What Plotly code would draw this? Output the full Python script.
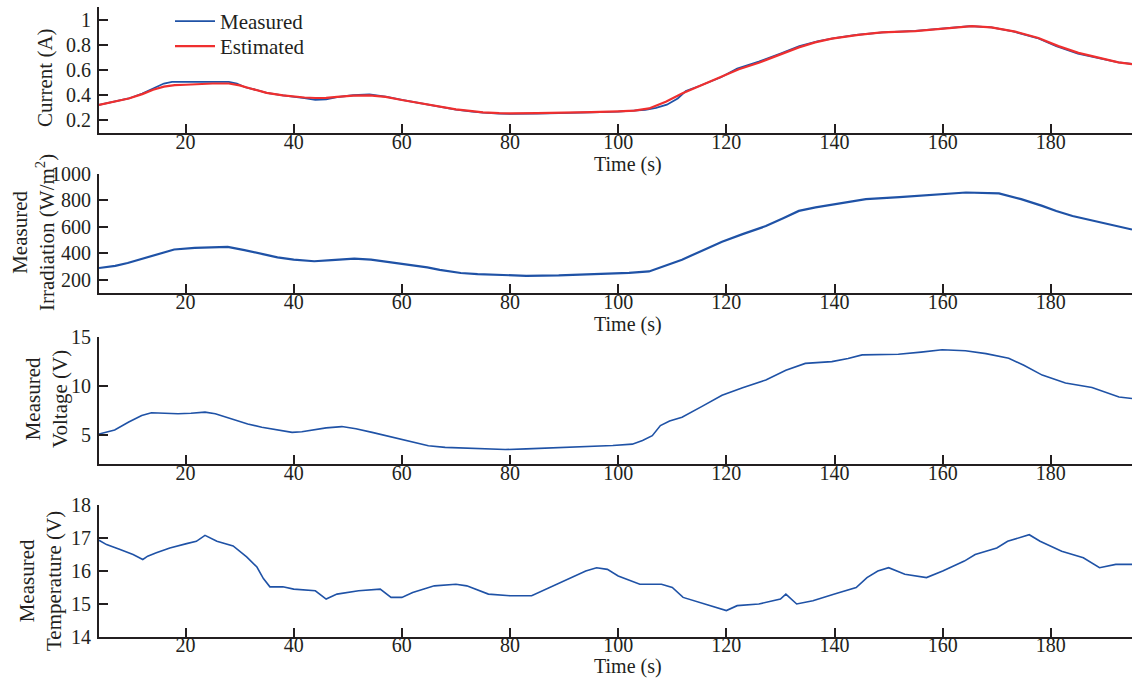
import plotly.graph_objects as go

# ---------------- data ----------------
t_cur_meas = [4, 7, 9.5, 12, 14, 16, 17.5, 20, 22, 25, 28, 29.5, 31, 33, 35, 38, 40, 42, 44, 46, 48, 51, 54, 57, 60,
              63, 65, 68, 70, 73, 75, 78, 80, 85, 90, 95, 100, 103, 105, 107, 109, 111, 112.5, 115, 119, 122, 126,
              130, 133.5, 137, 140, 144, 149, 155, 161, 165, 169, 173, 177.5, 181, 185, 189, 192.5, 195]
cur_meas = [0.318, 0.345, 0.37, 0.41, 0.45, 0.49, 0.503, 0.503, 0.498, 0.503, 0.503, 0.49, 0.46, 0.44, 0.415, 0.395,
            0.385, 0.372, 0.358, 0.362, 0.38, 0.396, 0.402, 0.385, 0.358, 0.335, 0.318, 0.295, 0.28, 0.265, 0.256,
            0.249, 0.246, 0.249, 0.252, 0.258, 0.265, 0.27, 0.278, 0.295, 0.32, 0.37, 0.43, 0.47, 0.54, 0.61, 0.665,
            0.73, 0.79, 0.83, 0.855, 0.88, 0.90, 0.912, 0.933, 0.95, 0.94, 0.908, 0.855, 0.79, 0.73, 0.695, 0.66, 0.648]

t_cur_est = [4, 7, 9.5, 12, 14, 16, 18, 20, 22, 25, 28, 30, 32, 35, 38, 40, 42, 44, 46, 48, 51, 54, 57, 60, 63, 65,
             68, 70, 73, 75, 78, 80, 85, 90, 95, 100, 103, 105.7, 108.8, 111.8, 114.9, 118.6, 122.3, 126, 129.7,
             133.4, 136.4, 139.5, 144.4, 148.7, 154.9, 161, 165.4, 169, 173.4, 177.7, 181.4, 185.1, 188.8, 192.5, 195]
cur_est = [0.318, 0.345, 0.37, 0.405, 0.44, 0.465, 0.477, 0.48, 0.485, 0.49, 0.49, 0.475, 0.45, 0.415, 0.395, 0.385,
           0.378, 0.374, 0.375, 0.383, 0.393, 0.395, 0.383, 0.358, 0.335, 0.32, 0.298, 0.283, 0.268, 0.258, 0.252,
           0.25, 0.252, 0.254, 0.26, 0.266, 0.272, 0.29, 0.344, 0.41, 0.467, 0.532, 0.605, 0.657, 0.72, 0.78, 0.82,
           0.85, 0.88, 0.90, 0.911, 0.932, 0.95, 0.94, 0.906, 0.855, 0.79, 0.736, 0.70, 0.66, 0.645]

t_irr = [4, 7, 9.3, 12, 15.5, 17.9, 21.7, 24, 27.8, 30.9, 33, 34.5, 37, 40, 43.8, 47, 51.2, 54.3, 57, 60, 64.7, 67,
         70.9, 74, 77, 83, 89, 95, 98.5, 102, 105.7, 108, 111.8, 115.5, 119.2, 123, 127.3, 130.5, 133.4, 136.5,
         139.5, 145.8, 152, 158, 164.3, 170.4, 174.5, 178.4, 181, 184, 188, 192.6, 195]
irr = [289, 305, 327, 360, 403, 429, 441, 445, 449, 424, 405, 388, 370, 352, 340, 348, 360, 352, 338, 322, 294, 275,
       251, 243, 238, 230, 233, 240, 246, 252, 263, 295, 352, 420, 487, 545, 606, 665, 721, 748, 767, 810, 825, 843,
       860, 853, 810, 759, 720, 682, 643, 598, 580]

t_volt = [4, 6.9, 9.5, 11.9, 13.7, 16, 18.6, 21, 23.6, 25.5, 27.5, 29.2, 31.5, 34.1, 37, 39.7, 41.5, 43.4, 46, 48.9,
          51.5, 54.5, 57, 60, 62.5, 64.9, 68, 71.1, 75, 79.1, 83, 86.5, 91, 95.8, 99, 102.6, 104.5, 106.3, 107.8,
          109.5, 111.8, 115.5, 119.2, 123, 127.3, 131, 134.6, 139.5, 142.5, 145.1, 151.8, 156, 159.9, 164.2, 168,
          172.2, 175, 178.4, 182.7, 187.6, 190, 192.6, 195]
volt = [5.07, 5.49, 6.3, 6.97, 7.24, 7.2, 7.14, 7.2, 7.31, 7.14, 6.8, 6.45, 6.1, 5.76, 5.5, 5.24, 5.3, 5.49, 5.7,
        5.83, 5.6, 5.24, 4.9, 4.55, 4.2, 3.86, 3.7, 3.62, 3.55, 3.48, 3.55, 3.62, 3.72, 3.83, 3.9, 4.03, 4.4, 4.9,
        5.93, 6.4, 6.79, 7.9, 9.03, 9.8, 10.6, 11.6, 12.3, 12.48, 12.8, 13.17, 13.24, 13.45, 13.69, 13.6, 13.3,
        12.83, 12.1, 11.1, 10.3, 9.83, 9.4, 8.86, 8.7]

t_temp = [4, 5.4, 7.9, 10.3, 12.1, 13, 14.6, 17.1, 20.2, 22, 23.6, 25.8, 28.8, 31.3, 33.2, 34.4, 35.6, 38, 40, 44,
          46, 48, 52, 56, 58, 60, 62, 66, 70, 72, 76, 80, 84, 86, 90, 94, 96, 98, 100, 104, 108, 110, 112, 116, 120,
          122, 126, 130, 131, 133, 136, 140, 142, 144, 146, 148, 150, 153, 157, 160, 164, 166, 168, 170, 172, 174,
          176, 178, 182, 186, 189, 192, 195]
temp = [16.93, 16.8, 16.65, 16.5, 16.35, 16.45, 16.55, 16.7, 16.83, 16.9, 17.08, 16.9, 16.76, 16.43, 16.12, 15.77,
        15.52, 15.52, 15.45, 15.4, 15.15, 15.3, 15.4, 15.45, 15.2, 15.2, 15.35, 15.55, 15.6, 15.55, 15.3, 15.25,
        15.25, 15.4, 15.7, 16.0, 16.1, 16.05, 15.85, 15.6, 15.6, 15.5, 15.2, 15.0, 14.8, 14.95, 15.0, 15.15, 15.3,
        15.0, 15.1, 15.3, 15.4, 15.5, 15.8, 16.0, 16.1, 15.9, 15.8, 16.0, 16.3, 16.5, 16.6, 16.7, 16.9, 17.0,
        17.1, 16.9, 16.6, 16.4, 16.1, 16.2, 16.2]

x_range = [4, 195]
x_ticks = [20, 40, 60, 80, 100, 120, 140, 160, 180]

# ---------------- figure ----------------
BLUE = "#1f52a6"
RED = "#ef2f2f"
INK = "#231f20"
FONT = "Liberation Serif"
W, H = 1132, 679
L = 99

fig = go.Figure()
fig.add_trace(go.Scatter(x=t_cur_meas, y=cur_meas, mode="lines", name="Measured", legend="legend",
                         line=dict(color=BLUE, width=1.8), xaxis="x", yaxis="y"))
fig.add_trace(go.Scatter(x=t_cur_est, y=cur_est, mode="lines", name="Estimated", legend="legend2",
                         line=dict(color=RED, width=2.2), xaxis="x", yaxis="y"))
fig.add_trace(go.Scatter(x=t_irr, y=irr, mode="lines", showlegend=False,
                         line=dict(color=BLUE, width=2.2), xaxis="x2", yaxis="y2"))
fig.add_trace(go.Scatter(x=t_volt, y=volt, mode="lines", showlegend=False,
                         line=dict(color=BLUE, width=1.6), xaxis="x3", yaxis="y3"))
fig.add_trace(go.Scatter(x=t_temp, y=temp, mode="lines", showlegend=False,
                         line=dict(color=BLUE, width=1.6), xaxis="x4", yaxis="y4"))

# panel pixel extents (top, bottom)
panels = [(7, 133), (174, 293), (337, 464), (505, 637)]
yranges = [[0.093, 1.104], [100, 1000], [2, 15], [14, 18]]
yticks = [[0.2, 0.4, 0.6, 0.8, 1], [200, 400, 600, 800, 1000], [5, 10, 15], [14, 15, 16, 17, 18]]
ytext = [["0.2", "0.4", "0.6", "0.8", "1"], None, None, None]
xstandoff = [-10, -10, -10, -11]

axis_common = dict(showline=True, linecolor=INK, linewidth=2, ticks="inside", ticklen=9, tickwidth=1.5,
                   tickcolor=INK, showgrid=False, zeroline=False, mirror=False, automargin=False,
                   tickfont=dict(family=FONT, size=20, color=INK))

layout = {}
for i, ((top, bot), yr, yt, ytt, so) in enumerate(zip(panels, yranges, yticks, ytext, xstandoff)):
    n = "" if i == 0 else str(i + 1)
    dom = [1 - bot / H, 1 - top / H]
    layout["xaxis" + n] = dict(axis_common, domain=[0, 1], range=x_range, tickvals=x_ticks,
                               anchor="y" + n, ticklabelstandoff=so)
    ya = dict(axis_common, domain=dom, range=yr, tickvals=yt, anchor="x" + n, ticklabelstandoff=2)
    if ytt:
        ya["ticktext"] = ytt
    layout["yaxis" + n] = ya

fig.update_layout(**layout)


def px_to_paper_x(px):
    return (px - L) / (W - L)


def py_to_paper_y(py):
    return 1 - py / H


ann = []
# x-axis titles
for py in (164, 324, 666):
    ann.append(dict(text="Time (s)", x=px_to_paper_x(628), y=py_to_paper_y(py), xref="paper", yref="paper",
                    showarrow=False, xanchor="center", yanchor="middle",
                    font=dict(family=FONT, size=20, color=INK)))
# y-axis titles
ytitles = [("Current (A)", 45, 78),
           ("Measured<br>Irradiation (W/m<sup>2</sup>)", 33, 233),
           ("Measured<br>Voltage (V)", 46, 399),
           ("Measured<br>Temperature (V)", 40, 581)]
for txt, px, py in ytitles:
    ann.append(dict(text=txt, x=px_to_paper_x(px), y=py_to_paper_y(py), xref="paper", yref="paper",
                    showarrow=False, xanchor="center", yanchor="middle", textangle=-90,
                    font=dict(family=FONT, size=21, color=INK)))

leg_common = dict(xanchor="left", yanchor="top", bgcolor="rgba(0,0,0,0)",
                  font=dict(family=FONT, size=21, color=INK), itemwidth=40)
fig.update_layout(
    width=W, height=H,
    margin=dict(l=L, r=0, t=0, b=0, autoexpand=False),
    paper_bgcolor="white", plot_bgcolor="white",
    font=dict(family=FONT, size=20, color=INK),
    annotations=ann,
    legend=dict(leg_common, x=px_to_paper_x(170), y=py_to_paper_y(1)),
    legend2=dict(leg_common, x=px_to_paper_x(170), y=py_to_paper_y(26)),
)

fig.write_html("out.html", config={"displayModeBar": False},
               post_script="document.body.style.margin='0px';document.body.style.overflow='hidden';")
